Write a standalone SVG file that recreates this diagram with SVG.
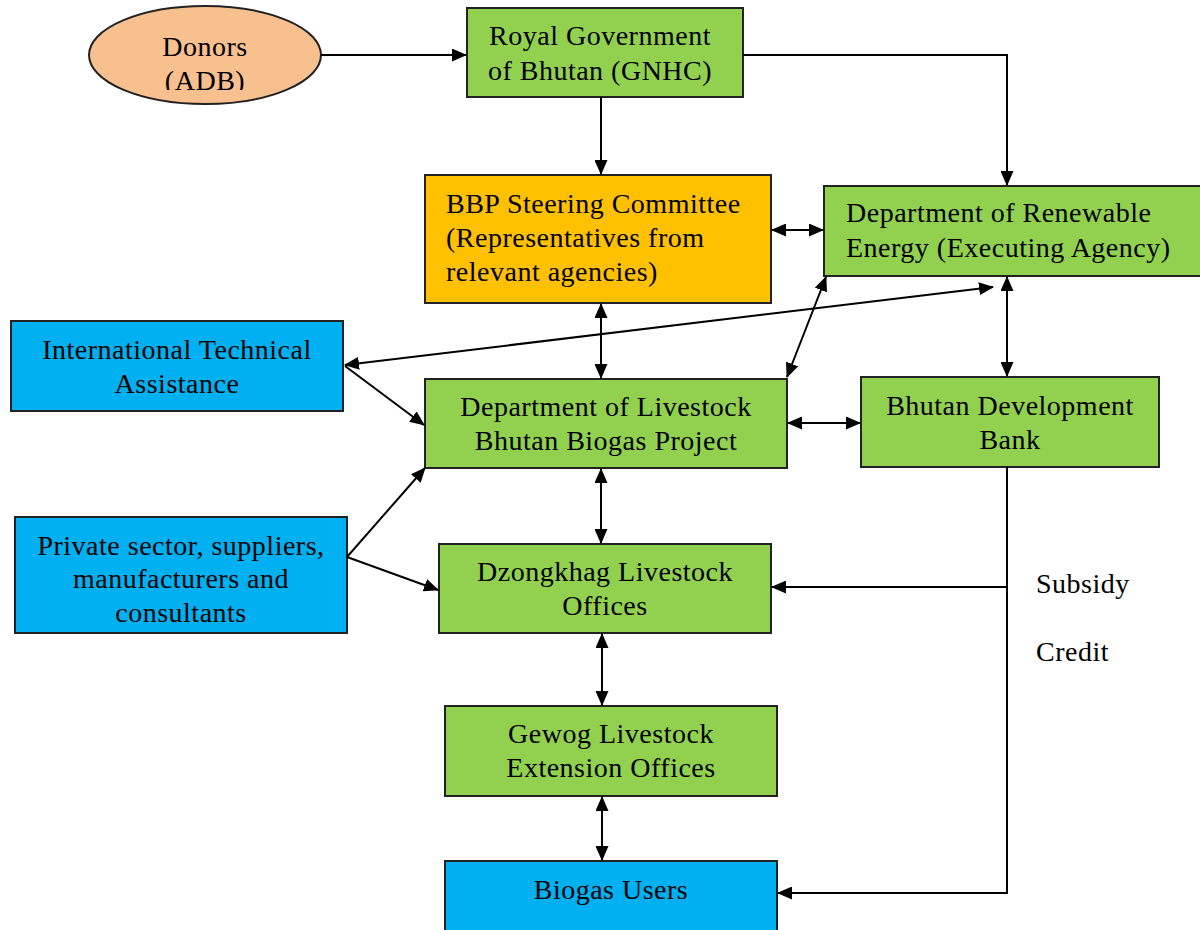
<svg xmlns="http://www.w3.org/2000/svg" width="1200" height="930" viewBox="0 0 1200 930">
<style>
text{font-family:"Liberation Serif","Times New Roman",serif;font-size:28px;letter-spacing:0.5px;fill:#000}
.c{text-anchor:middle}
.box{stroke:#222;stroke-width:2}
.g{fill:#92D050}
.o{fill:#FFC000}
.b{fill:#00B0F0}
.e{fill:#F8BF8F}
.ln{fill:none;stroke:#000;stroke-width:2}
.one{marker-end:url(#ah)}
.two{marker-start:url(#ah);marker-end:url(#ah)}
</style>
<defs>
<marker id="ah" markerUnits="userSpaceOnUse" markerWidth="15" markerHeight="13" refX="14" refY="6.5" orient="auto-start-reverse">
<path d="M0,0 L15,6.5 L0,13 z" fill="#000"/>
</marker>
<clipPath id="clipE"><rect x="80" y="0" width="260" height="90"/></clipPath>
</defs>
<g id="donors">
<ellipse class="box e" cx="205" cy="55" rx="116" ry="49"/>
<g clip-path="url(#clipE)">
<text class="c" x="205" y="56">Donors</text>
<text class="c" x="205" y="90">(ADB)</text>
</g>
</g>
<g id="gnhc">
<rect class="box g" x="467" y="8" width="276" height="89"/>
<text class="c" x="600" y="45">Royal Government</text>
<text class="c" x="600" y="80">of Bhutan (GNHC)</text>
</g>
<g id="bbp">
<rect class="box o" x="425" y="175" width="346" height="128"/>
<text x="446" y="213">BBP Steering Committee</text>
<text x="446" y="247">(Representatives from</text>
<text x="446" y="281">relevant agencies)</text>
</g>
<g id="dre">
<rect class="box g" x="824" y="186" width="380" height="90"/>
<text x="846" y="222">Department of Renewable</text>
<text x="846" y="257">Energy (Executing Agency)</text>
</g>
<g id="ita">
<rect class="box b" x="11" y="321" width="332" height="90"/>
<text class="c" x="177" y="359">International Technical</text>
<text class="c" x="177" y="393">Assistance</text>
</g>
<g id="dol">
<rect class="box g" x="425" y="379" width="362" height="89"/>
<text class="c" x="606" y="416">Department of Livestock</text>
<text class="c" x="606" y="450">Bhutan Biogas Project</text>
</g>
<g id="bdb">
<rect class="box g" x="861" y="377" width="298" height="90"/>
<text class="c" x="1010" y="415">Bhutan Development</text>
<text class="c" x="1010" y="449">Bank</text>
</g>
<g id="private">
<rect class="box b" x="15" y="517" width="332" height="116"/>
<text class="c" x="181" y="555">Private sector, suppliers,</text>
<text class="c" x="181" y="588">manufacturers and</text>
<text class="c" x="181" y="622">consultants</text>
</g>
<g id="dzongkhag">
<rect class="box g" x="439" y="544" width="332" height="89"/>
<text class="c" x="605" y="581">Dzongkhag Livestock</text>
<text class="c" x="605" y="615">Offices</text>
</g>
<g id="gewog">
<rect class="box g" x="445" y="706" width="332" height="90"/>
<text class="c" x="611" y="743">Gewog Livestock</text>
<text class="c" x="611" y="777">Extension Offices</text>
</g>
<g id="users">
<rect class="box b" x="445" y="861" width="332" height="80"/>
<text class="c" x="611" y="899">Biogas Users</text>
</g>
<g id="connectors">
<path class="ln one" d="M321,55 L466,55"/>
<path class="ln one" d="M601,97 L601,174"/>
<path class="ln one" d="M743,55 L1007,55 L1007,185"/>
<path class="ln two" d="M772,230 L823,230"/>
<path class="ln two" d="M993,287 L345,365"/>
<path class="ln one" d="M345,366 L424,425"/>
<path class="ln two" d="M601,304 L601,378"/>
<path class="ln two" d="M787,377 L826,277"/>
<path class="ln two" d="M1007,277 L1007,376"/>
<path class="ln two" d="M788,423 L860,423"/>
<path class="ln one" d="M347,557 L425,468"/>
<path class="ln one" d="M347,557 L438,590"/>
<path class="ln two" d="M601,469 L601,543"/>
<path class="ln two" d="M602,634 L602,705"/>
<path class="ln two" d="M602,797 L602,860"/>
<path class="ln one" d="M1007,467 L1007,893 L778,893"/>
<path class="ln one" d="M1007,587 L772,587"/>
</g>
<g id="labels">
<text x="1036" y="593">Subsidy</text>
<text x="1036" y="661">Credit</text>
</g>
</svg>
